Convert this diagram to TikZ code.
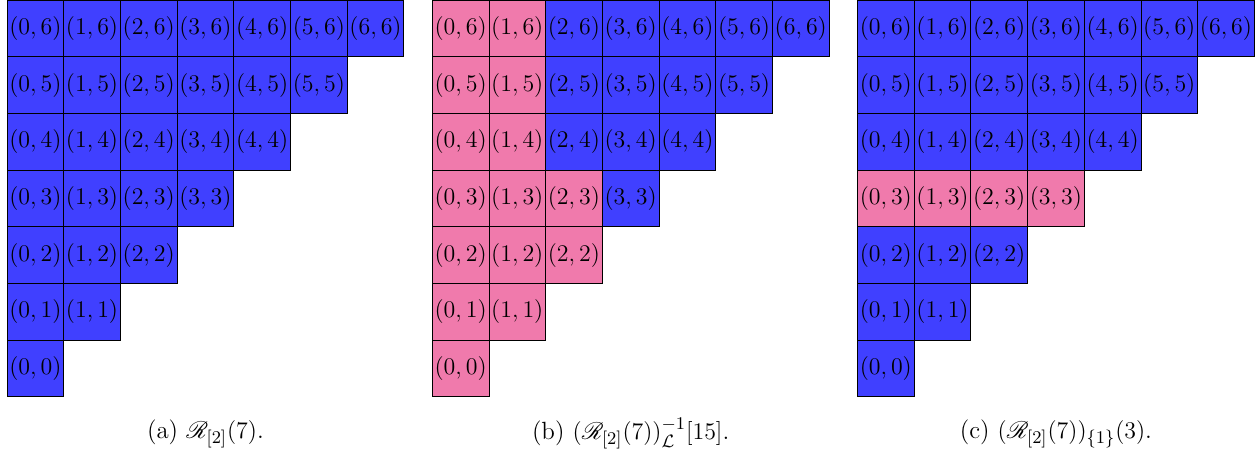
\documentclass[tikz,border=0pt]{standalone}
\usepackage{amsmath,amssymb}
\usepackage{mathrsfs}
\usepackage{tikz}
\usepackage{xcolor}
\definecolor{CellBlue}{HTML}{4040FF}
\definecolor{CellPink}{HTML}{F07AAC}

\begin{document}
\begin{tikzpicture}[
    cell/.style={draw=black, minimum size=1cm, inner sep=0pt, fill=CellBlue,
      font=\fontsize{11.5}{13}\selectfont},
    caption/.style={font=\fontsize{12.5}{15}\selectfont}
  ]
    \useasboundingbox (0,0) rectangle (22.17,-7.94);

    % (a) the whole staircase
    \foreach \i in {0,...,6}
      \foreach \j in {\i,...,6}
        \node[cell] (a\i\j) at (0.623+\i,\j-6.5) {$(\i,\j)$};
    \node[caption] (capa) at (3.623,-7.65) {(a) $\mathscr{R}_{[2]}(7)$.};

    % (b) first two columns and part of the third
    \foreach \i in {0,...,6}
      \foreach \j in {\i,...,6} {
        \pgfmathtruncatemacro\ispink{(\i<2) || (\i==2 && \j<4)}
        \ifnum\ispink=1 \def\cellcol{CellPink}\else\def\cellcol{CellBlue}\fi
        \node[cell, fill=\cellcol] (b\i\j) at (8.123+\i,\j-6.5) {$(\i,\j)$};
      }
    \node[caption] (capb) at (11.123,-7.65)
      {(b) $(\mathscr{R}_{[2]}(7))^{-1}_{\mathcal{L}}[15]$.};

    % (c) row j = 3 marked
    \foreach \i in {0,...,6}
      \foreach \j in {\i,...,6} {
        \pgfmathtruncatemacro\ispink{\j==3}
        \ifnum\ispink=1 \def\cellcol{CellPink}\else\def\cellcol{CellBlue}\fi
        \node[cell, fill=\cellcol] (c\i\j) at (15.623+\i,\j-6.5) {$(\i,\j)$};
      }
    \node[caption] (capc) at (18.623,-7.65)
      {(c) $(\mathscr{R}_{[2]}(7))_{\{1\}}(3)$.};
\end{tikzpicture}
\end{document}
